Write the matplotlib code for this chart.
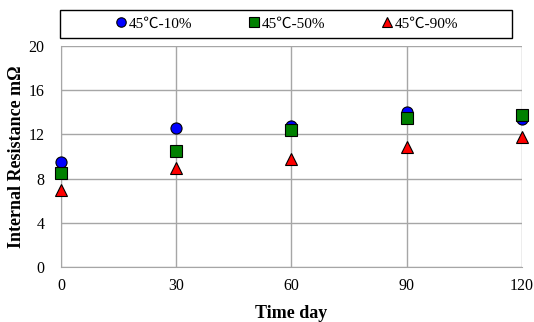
import matplotlib
matplotlib.use("Agg")
import matplotlib.pyplot as plt
from matplotlib.patches import Rectangle

plt.rcParams['font.family'] = ['Liberation Serif', 'Noto Sans CJK SC', 'DejaVu Serif']

days = [0, 30, 60, 90, 120]
s10 = [9.5, 12.6, 12.8, 14.0, 13.4]
s50 = [8.5, 10.5, 12.4, 13.5, 13.8]
s90 = [7.0, 9.0, 9.8, 10.85, 11.8]
labels = ['45℃-10%', '45℃-50%', '45℃-90%']

fig = plt.figure(figsize=(5.34, 3.22), dpi=100)
ax = fig.add_axes([0.1142, 0.1708, 0.8633, 0.6862])

ax.plot(days, s10, 'o', color='#0000FF', mec='black', mew=0.8, ms=8, label=labels[0], zorder=3, clip_on=False)
ax.plot(days, s50, 's', color='#008000', mec='black', mew=0.8, ms=8, label=labels[1], zorder=4, clip_on=False)
ax.plot(days, s90, '^', color='#FF0000', mec='black', mew=0.8, ms=8, label=labels[2], zorder=5, clip_on=False)

ax.set_xlim(0, 120)
ax.set_ylim(0, 20)
ax.set_xticks([0, 30, 60, 90, 120])
ax.set_yticks([0, 4, 8, 12, 16, 20])
ax.grid(True, color='#A6A6A6', lw=1)
ax.set_axisbelow(True)
for s in ax.spines.values():
    s.set_visible(False)
ax.spines['left'].set_visible(True)
ax.spines['bottom'].set_visible(True)
ax.spines['left'].set_color('#A6A6A6')
ax.spines['bottom'].set_color('#A6A6A6')
ax.tick_params(axis='y', length=0, labelsize=11.5, pad=12)
ax.tick_params(axis='x', length=0, labelsize=11.5, pad=8)
ax.set_xlabel('Time day', fontsize=13, fontweight='bold', labelpad=8)
ax.set_ylabel('Internal Resistance mΩ', fontsize=13, fontweight='bold')
ax.yaxis.set_label_coords(-0.078, 0.5)

# legend box
fig.patches.append(Rectangle((0.1124, 0.882), 0.846, 0.087, transform=fig.transFigure,
                             fill=False, edgecolor='black', lw=1.0))
leg = fig.legend(loc='center', bbox_to_anchor=(0.1124 + 0.846 / 2, 0.882 + 0.087 / 2),
                 ncol=3, frameon=False, fontsize=11, handletextpad=0.0,
                 borderaxespad=0, handlelength=1.0, columnspacing=3.55,
                 markerscale=0.85)

fig.savefig('out.png', dpi=100)
